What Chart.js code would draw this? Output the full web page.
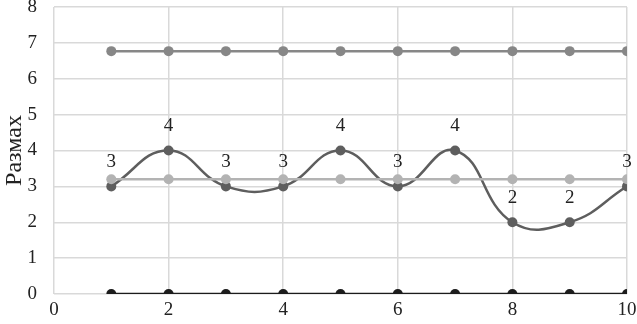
<!DOCTYPE html>
<html><head><meta charset="utf-8">
<script src="https://cdn.jsdelivr.net/npm/chart.js@4"></script>
<style>html,body{margin:0;padding:0;background:#fff}#w{width:637px;height:324px}</style>
</head><body><div id="w"><canvas id="c"></canvas></div>
<script>
const samples = [1,2,3,4,5,6,7,8,9,10];
const ranges = [3,4,3,3,4,3,4,2,2,3];
const meanRange = [3.2,3.2,3.2,3.2,3.2,3.2,3.2,3.2,3.2,3.2];
const ucl = [6.77,6.77,6.77,6.77,6.77,6.77,6.77,6.77,6.77,6.77];
const lcl = [0,0,0,0,0,0,0,0,0,0];
const xTicks = [0,2,4,6,8,10];
const yTicks = [0,1,2,3,4,5,6,7,8];
const yTitle = 'Размах';

const pts = arr => samples.map((x,i)=>({x, y: arr[i]}));
const FONT = '"Liberation Serif", "Times New Roman", Times, serif';

const labelPlugin = {
  id:'lbl',
  afterDatasetsDraw(chart){
    const meta = chart.getDatasetMeta(1);
    const ctx = chart.ctx;
    ctx.save();
    ctx.font = '19px ' + FONT;
    ctx.fillStyle = '#222';
    ctx.textAlign = 'center';
    ctx.textBaseline = 'middle';
    meta.data.forEach((p,i)=>{ ctx.fillText(String(ranges[i]), p.x, p.y - 24); });
    ctx.restore();
  }
};

function draw(){
const common = {borderWidth:2.5, pointRadius:5, pointHoverRadius:5, pointBorderWidth:0};
new Chart(document.getElementById('c'), {
  type:'line',
  data:{ datasets:[
    Object.assign({data:pts(lcl), borderColor:'#1c1c1c', backgroundColor:'#1c1c1c', tension:0, order:4}, common),
    Object.assign({data:pts(ranges), borderColor:'#5e5e5e', backgroundColor:'#5e5e5e', tension:0.45, order:2}, common),
    Object.assign({data:pts(meanRange), borderColor:'#b3b3b3', backgroundColor:'#b3b3b3', tension:0, order:1}, common),
    Object.assign({data:pts(ucl), borderColor:'#878787', backgroundColor:'#878787', tension:0, order:3}, common)
  ]},
  options:{
    responsive:true, maintainAspectRatio:false, animation:false,
    layout:{padding:{top:7,right:10,left:0,bottom:0}, autoPadding:false},
    plugins:{legend:{display:false}, tooltip:{enabled:false}},
    scales:{
      x:{type:'linear', min:0, max:10,
        afterBuildTicks(s){ s.ticks = xTicks.map(v=>({value:v})); },
        afterFit(s){ s.height = 30; s.paddingLeft = 0; s.paddingRight = 0; },
        grid:{color:'#d9d9d9', lineWidth:1.5, drawTicks:false},
        border:{display:false},
        ticks:{font:{family:FONT,size:19}, color:'#222', padding:5, maxRotation:0}
      },
      y:{min:0, max:8,
        afterBuildTicks(s){ s.ticks = yTicks.map(v=>({value:v})); },
        afterFit(s){ s.width = 54; s.paddingTop = 0; s.paddingBottom = 0; },
        grid:{color:'#d9d9d9', lineWidth:1.5, drawTicks:false},
        border:{display:false},
        ticks:{font:{family:FONT,size:19}, color:'#222', padding:17},
        title:{display:true, text:yTitle, font:{family:FONT,size:24}, color:'#222', padding:{top:0,bottom:2}}
      }
    }
  },
  plugins:[labelPlugin]
});
}
Promise.all([
  document.fonts.load('19px "Liberation Serif"', 'Размах0123'),
  document.fonts.load('24px "Liberation Serif"', 'Размах')
]).then(draw, draw);
</script></body></html>
